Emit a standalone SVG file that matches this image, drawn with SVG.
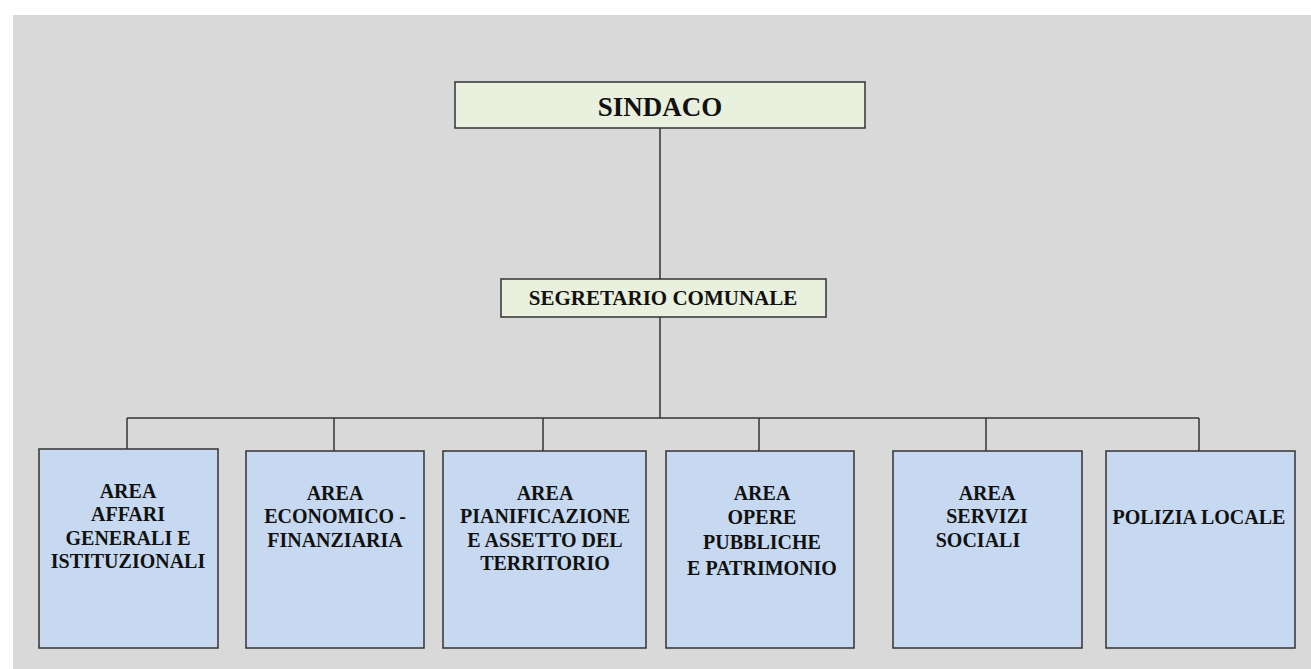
<svg xmlns="http://www.w3.org/2000/svg" width="1311" height="669" viewBox="0 0 1311 669">
<style>
.bg{fill:#d9d9d9}
.top{fill:#e9f0dd;stroke:#333;stroke-width:1.5}
.area{fill:#c6d9f0;stroke:#333;stroke-width:1.5}
.con{fill:none;stroke:#333;stroke-width:1.5}
text{font-family:"Liberation Serif","Times New Roman",serif;font-weight:bold;fill:#111;text-anchor:middle}
.t{font-size:20px}
</style>
<rect width="1311" height="669" fill="#ffffff"/>
<rect class="bg" x="13" y="15" width="1298" height="654"/>
<g id="connectors">
<line class="con" x1="660" y1="128" x2="660" y2="279"/>
<line class="con" x1="660" y1="317" x2="660" y2="418"/>
<line class="con" x1="127" y1="418" x2="1199" y2="418"/>
<line class="con" x1="127" y1="418" x2="127" y2="449"/>
<line class="con" x1="334" y1="418" x2="334" y2="451"/>
<line class="con" x1="543" y1="418" x2="543" y2="451"/>
<line class="con" x1="759" y1="418" x2="759" y2="451"/>
<line class="con" x1="986" y1="418" x2="986" y2="451"/>
<line class="con" x1="1199" y1="418" x2="1199" y2="451"/>
</g>
<g id="sindaco">
<rect class="top" x="455" y="82" width="410" height="46"/>
<text x="660" y="116" font-size="27">SINDACO</text>
</g>
<g id="segretario">
<rect class="top" x="501" y="279" width="325" height="38"/>
<text x="663" y="305" font-size="21">SEGRETARIO COMUNALE</text>
</g>
<g id="area-affari">
<rect class="area" x="39" y="449" width="179" height="199"/>
<text class="t" x="128" y="498">AREA</text>
<text class="t" x="128" y="521">AFFARI</text>
<text class="t" x="128" y="545">GENERALI E</text>
<text class="t" x="128" y="568">ISTITUZIONALI</text>
</g>
<g id="area-economico">
<rect class="area" x="246" y="451" width="178" height="197"/>
<text class="t" x="335" y="500">AREA</text>
<text class="t" x="335" y="523">ECONOMICO -</text>
<text class="t" x="335" y="547">FINANZIARIA</text>
</g>
<g id="area-pianificazione">
<rect class="area" x="443" y="451" width="203" height="197"/>
<text class="t" x="545" y="500">AREA</text>
<text class="t" x="545" y="523">PIANIFICAZIONE</text>
<text class="t" x="545" y="547">E ASSETTO DEL</text>
<text class="t" x="545" y="570">TERRITORIO</text>
</g>
<g id="area-opere">
<rect class="area" x="666" y="451" width="188" height="197"/>
<text class="t" x="762" y="500">AREA</text>
<text class="t" x="762" y="524">OPERE</text>
<text class="t" x="762" y="549">PUBBLICHE</text>
<text class="t" x="762" y="575">E PATRIMONIO</text>
</g>
<g id="area-servizi">
<rect class="area" x="893" y="451" width="189" height="197"/>
<text class="t" x="987" y="500">AREA</text>
<text class="t" x="987" y="523">SERVIZI</text>
<text class="t" x="978" y="547">SOCIALI</text>
</g>
<g id="polizia">
<rect class="area" x="1106" y="451" width="189" height="197"/>
<text class="t" x="1199" y="524">POLIZIA LOCALE</text>
</g>
</svg>
